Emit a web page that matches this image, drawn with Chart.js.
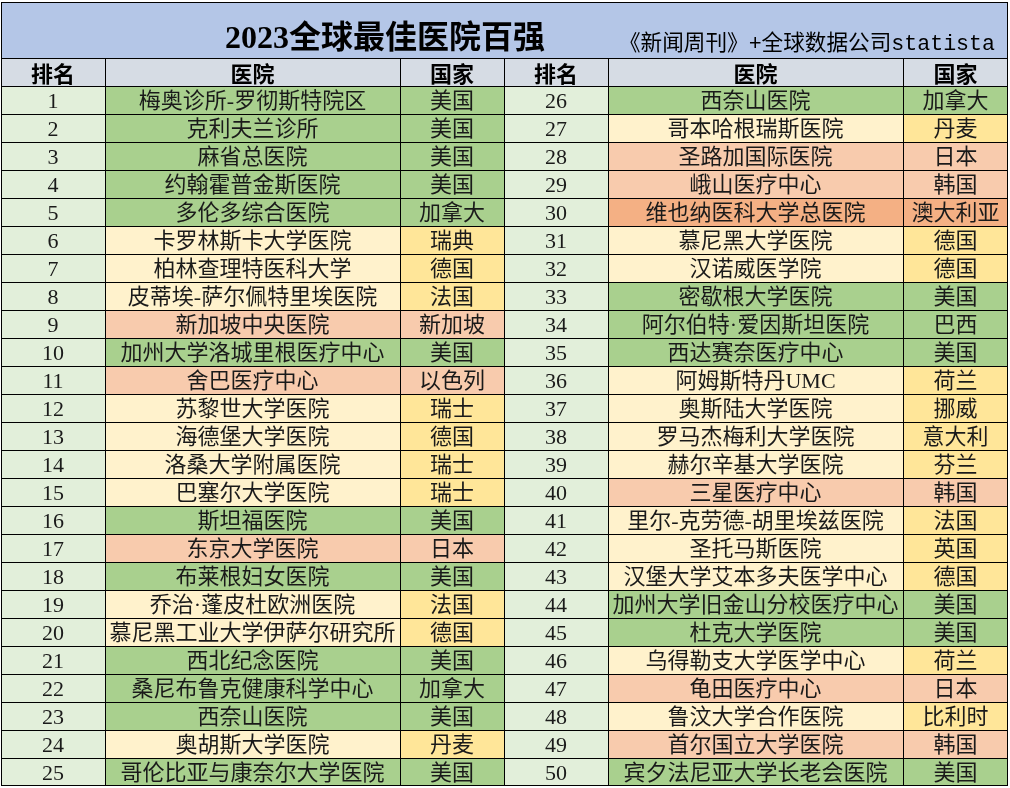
<!DOCTYPE html>
<html>
<head>
<meta charset="utf-8">
<script src="https://cdn.jsdelivr.net/npm/chart.js@4/dist/chart.umd.min.js"></script>
<style>
html,body{margin:0;padding:0;background:#ffffff;}
#wrap{width:1010px;height:788px;position:relative;}
</style>
</head>
<body>
<div id="wrap"><canvas id="c"></canvas></div>
<script>
// ---------- data ----------
const titleText = '2023全球最佳医院百强';
const subtitleText = '《新闻周刊》+全球数据公司statista';
const headers = ['排名', '医院', '国家'];

const ranksLeft = ['1','2','3','4','5','6','7','8','9','10','11','12','13','14','15','16','17','18','19','20','21','22','23','24','25'];
const hospitalsLeft = [
  '梅奥诊所-罗彻斯特院区','克利夫兰诊所','麻省总医院','约翰霍普金斯医院','多伦多综合医院',
  '卡罗林斯卡大学医院','柏林查理特医科大学','皮蒂埃-萨尔佩特里埃医院','新加坡中央医院','加州大学洛城里根医疗中心',
  '舍巴医疗中心','苏黎世大学医院','海德堡大学医院','洛桑大学附属医院','巴塞尔大学医院',
  '斯坦福医院','东京大学医院','布莱根妇女医院','乔治·蓬皮杜欧洲医院','慕尼黑工业大学伊萨尔研究所',
  '西北纪念医院','桑尼布鲁克健康科学中心','西奈山医院','奥胡斯大学医院','哥伦比亚与康奈尔大学医院'
];
const countriesLeft = [
  '美国','美国','美国','美国','加拿大',
  '瑞典','德国','法国','新加坡','美国',
  '以色列','瑞士','德国','瑞士','瑞士',
  '美国','日本','美国','法国','德国',
  '美国','加拿大','美国','丹麦','美国'
];

const ranksRight = ['26','27','28','29','30','31','32','33','34','35','36','37','38','39','40','41','42','43','44','45','46','47','48','49','50'];
const hospitalsRight = [
  '西奈山医院','哥本哈根瑞斯医院','圣路加国际医院','峨山医疗中心','维也纳医科大学总医院',
  '慕尼黑大学医院','汉诺威医学院','密歇根大学医院','阿尔伯特·爱因斯坦医院','西达赛奈医疗中心',
  '阿姆斯特丹UMC','奥斯陆大学医院','罗马杰梅利大学医院','赫尔辛基大学医院','三星医疗中心',
  '里尔-克劳德-胡里埃兹医院','圣托马斯医院','汉堡大学艾本多夫医学中心','加州大学旧金山分校医疗中心','杜克大学医院',
  '乌得勒支大学医学中心','龟田医疗中心','鲁汶大学合作医院','首尔国立大学医院','宾夕法尼亚大学长老会医院'
];
const countriesRight = [
  '加拿大','丹麦','日本','韩国','澳大利亚',
  '德国','德国','美国','巴西','美国',
  '荷兰','挪威','意大利','芬兰','韩国',
  '法国','英国','德国','美国','美国',
  '荷兰','日本','比利时','韩国','美国'
];

// ---------- styles / layout ----------
const C = {
  title: '#B4C6E7', header: '#D6DCE4', rank: '#E2EFDA',
  green: '#A9D08E', lightYellow: '#FFF2CC', yellow: '#FFE699',
  peach: '#F8CBAD', orange: '#F4B084', border: '#000000', text: '#1a1a1a'
};
const greenSet = ['美国','加拿大','巴西'];
const peachSet = ['新加坡','以色列','日本','韩国'];
const orangeSet = ['澳大利亚'];
function regionColors(country) {
  if (greenSet.includes(country)) return [C.green, C.green];
  if (peachSet.includes(country)) return [C.peach, C.peach];
  if (orangeSet.includes(country)) return [C.orange, C.orange];
  return [C.lightYellow, C.yellow];
}

const edges = [1, 105, 400, 504, 608, 903, 1008];
const rowLabels = ['t1', 't2', 'hdr'].concat(ranksLeft.map((r, i) => 'r' + i));
const HDR = 2, FIRST = 3, LAST = rowLabels.length - 1;

const columns = [
  { kind: 'rank', ranks: ranksLeft },
  { kind: 'hosp', names: hospitalsLeft, countries: countriesLeft },
  { kind: 'country', countries: countriesLeft },
  { kind: 'rank', ranks: ranksRight },
  { kind: 'hosp', names: hospitalsRight, countries: countriesRight },
  { kind: 'country', countries: countriesRight }
];

function cellColor(col, i) {
  if (i === HDR) return C.header;
  const r = i - FIRST;
  if (col.kind === 'rank') return C.rank;
  const pair = regionColors(col.countries[r]);
  return col.kind === 'hosp' ? pair[0] : pair[1];
}
function cellText(col, i) {
  if (i === HDR) return headers[col.kind === 'rank' ? 0 : col.kind === 'hosp' ? 1 : 2];
  const r = i - FIRST;
  if (col.kind === 'rank') return col.ranks[r];
  if (col.kind === 'hosp') return col.names[r];
  return col.countries[r];
}

const datasets = columns.map((col, ci) => ({
  label: 'col' + ci,
  data: rowLabels.map((_, i) => (i < HDR ? null : [edges[ci], edges[ci + 1]])),
  backgroundColor: ctx => cellColor(col, ctx.dataIndex),
  borderColor: C.border,
  borderWidth: ctx => ({
    left: 1, top: 1,
    right: ci === columns.length - 1 ? 1 : 0,
    bottom: ctx.dataIndex === LAST ? 1 : 0
  }),
  borderSkipped: false,
  inflateAmount: 0,
  grouped: false,
  barPercentage: 1,
  categoryPercentage: 1
}));

// title band (two category rows)
datasets.push({
  label: 'title',
  data: rowLabels.map((_, i) => (i < HDR ? [edges[0], edges[edges.length - 1]] : null)),
  backgroundColor: C.title,
  borderColor: C.border,
  borderWidth: ctx => ({ left: 1, right: 1, top: ctx.dataIndex === 0 ? 1 : 0, bottom: 0 }),
  borderSkipped: false,
  inflateAmount: 0,
  grouped: false,
  barPercentage: 1,
  categoryPercentage: 1
});

const textPlugin = {
  id: 'cellText',
  afterDatasetsDraw(chart) {
    const ctx = chart.ctx;
    const xs = chart.scales.x, ys = chart.scales.y;
    ctx.save();
    ctx.textAlign = 'center';
    ctx.textBaseline = 'middle';
    columns.forEach((col, ci) => {
      const cx = xs.getPixelForValue((edges[ci] + edges[ci + 1]) / 2);
      for (let i = HDR; i <= LAST; i++) {
        const cy = ys.getPixelForValue(i) + 2;
        const txt = cellText(col, i);
        if (i === HDR) {
          ctx.font = "bold 22px 'Noto Sans CJK SC'";
          ctx.fillStyle = '#000';
        } else if (col.kind === 'rank') {
          ctx.font = "22px 'Liberation Serif'";
          ctx.fillStyle = C.text;
        } else {
          ctx.font = "22px 'Liberation Serif', 'Noto Sans CJK SC'";
          ctx.fillStyle = C.text;
        }
        ctx.fillText(txt, cx, cy);
      }
    });
    // title
    const tMid = (ys.getPixelForValue(0) + ys.getPixelForValue(1)) / 2;
    ctx.font = "bold 32px 'Liberation Serif', 'Noto Sans CJK SC'";
    ctx.fillStyle = '#000';
    ctx.fillText(titleText, xs.getPixelForValue(385), tMid + 10);
    // subtitle, fitted to its span
    ctx.font = "22px 'Liberation Mono', 'Noto Sans CJK SC'";
    const left = xs.getPixelForValue(619), right = xs.getPixelForValue(995);
    const w = ctx.measureText(subtitleText).width;
    const sx = (right - left) / w;
    ctx.translate(left, tMid + 14);
    ctx.scale(sx, 1);
    ctx.textAlign = 'left';
    ctx.fillText(subtitleText, 0, 0);
    ctx.restore();
  }
};

new Chart(document.getElementById('c'), {
  type: 'bar',
  data: { labels: rowLabels, datasets },
  options: {
    indexAxis: 'y',
    responsive: true,
    maintainAspectRatio: false,
    animation: false,
    events: [],
    layout: { padding: { top: 2, bottom: 2, left: 0, right: 0 } },
    plugins: { legend: { display: false }, tooltip: { enabled: false }, title: { display: false } },
    scales: {
      x: { type: 'linear', min: 0, max: 1010, display: false },
      y: { type: 'category', display: false, offset: true, grid: { display: false } }
    }
  },
  plugins: [textPlugin]
});
</script>
</body>
</html>
